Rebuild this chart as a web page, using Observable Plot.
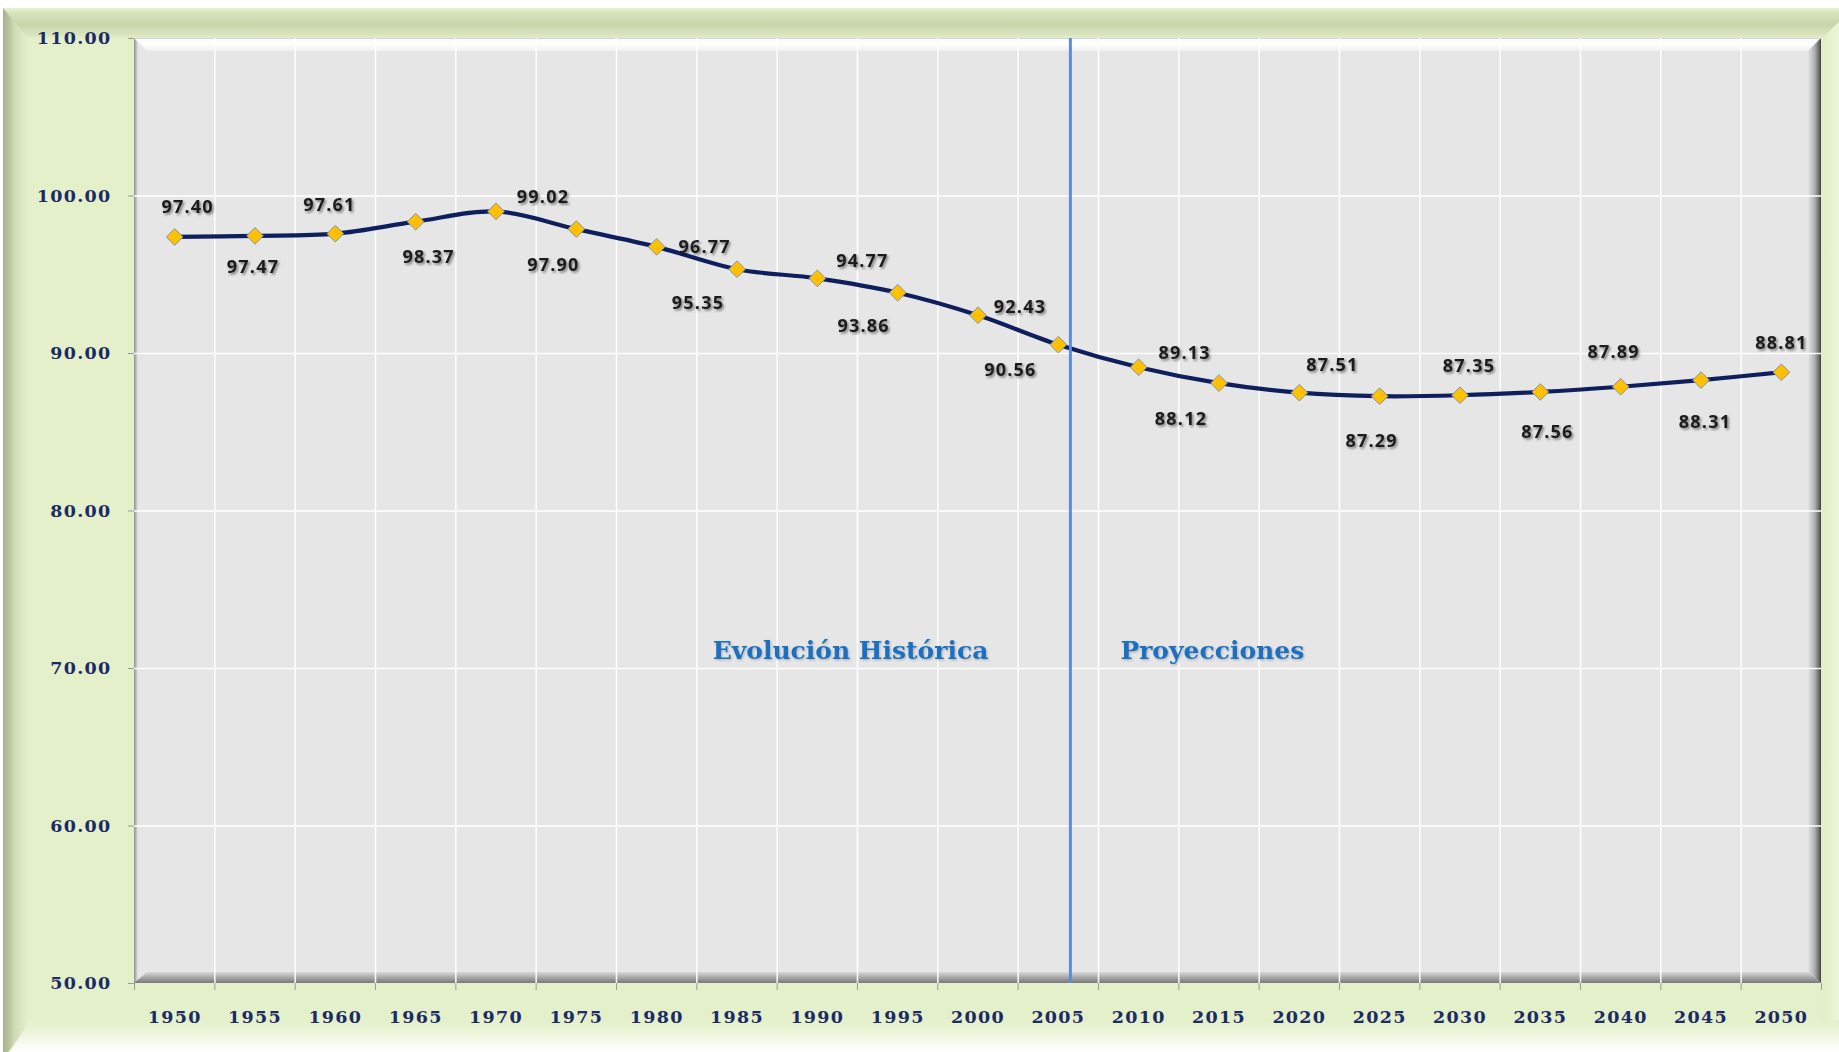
<!DOCTYPE html>
<html>
<head>
<meta charset="utf-8">
<script src="https://cdn.jsdelivr.net/npm/d3@7"></script>
<script src="https://cdn.jsdelivr.net/npm/@observablehq/plot@0.6"></script>
<style>
html, body { margin: 0; padding: 0; background: #ffffff; overflow: hidden; }
#chart svg { display: block; }
g[aria-label="y-axis tick label"] text, g[aria-label="x-axis tick label"] text { letter-spacing: 1.3px; }
g[aria-description="datalabel"] text { filter: url(#tshadow); letter-spacing: 1.2px; }
g[aria-description="annotation"] text { filter: url(#ashadow); }
</style>
</head>
<body>
<svg width="0" height="0" style="position:absolute">
  <defs>
    <filter id="tshadow" x="-20%" y="-40%" width="150%" height="190%">
      <feDropShadow dx="1.6" dy="1.8" stdDeviation="1.1" flood-color="#000000" flood-opacity="0.45"/>
    </filter>
    <filter id="ashadow" x="-10%" y="-40%" width="130%" height="190%">
      <feDropShadow dx="1" dy="1.2" stdDeviation="0.8" flood-color="#000000" flood-opacity="0.25"/>
    </filter>
  </defs>
</svg>
<div id="chart"></div>
<script>
// ---- data ----
const years = [1950, 1955, 1960, 1965, 1970, 1975, 1980, 1985, 1990, 1995, 2000,
               2005, 2010, 2015, 2020, 2025, 2030, 2035, 2040, 2045, 2050];
const values = [97.40, 97.47, 97.61, 98.37, 99.02, 97.90, 96.77, 95.35, 94.77, 93.86, 92.43,
                90.56, 89.13, 88.12, 87.51, 87.29, 87.35, 87.56, 87.89, 88.31, 88.81];
const yTicks = [50, 60, 70, 80, 90, 100, 110];
const dividerYear = 2005.75;
const annotationTexts = ["Evolución Histórica", "Proyecciones"];
const annotationY = [71.1, 71.1];

// label placement (pixel offsets, style only)
const labelDx = [13, -2, -6, 13, 47, -23, 48, -39, 45, -34, 42, -48, 46, -38, 33, -8, 9, 7, -7, 4, 0];
const labelDy = [-30, 31, -28, 36, -14, 36, 0, 34, -17, 34, -8, 26, -14, 36, -27, 45, -29, 40, -34, 42, -29];

const W = 1839, H = 1052;
const data = years.map((y, i) => ({year: y, value: values[i]}));
const boundaries = years.map(y => y - 2.5).concat([years[years.length - 1] + 2.5]);
const innerBoundaries = boundaries.slice(1, -1);

// ---- decoration (panel + 3D plot area) ----
function decor(index, scales, values, dim) {
  const {width, height, marginLeft, marginRight, marginTop, marginBottom} = dim;
  const L = marginLeft, R = width - marginRight, T = marginTop, B = height - marginBottom;
  const g = d3.create("svg:g");
  const defs = g.append("defs");
  function lg(id, x1, y1, x2, y2, stops) {
    const gr = defs.append("linearGradient").attr("id", id)
      .attr("x1", x1).attr("y1", y1).attr("x2", x2).attr("y2", y2);
    stops.forEach(([o, c]) => gr.append("stop").attr("offset", o).attr("stop-color", c));
  }
  lg("gTop", 0, 0, 0, 1, [[0, "#e8f2d2"], [0.18, "#d6e2bc"], [0.55, "#c9d6ac"], [0.85, "#d6e2bc"], [1, "#e2edc8"]]);
  lg("gLeft", 0, 0, 1, 0, [[0, "#a7b28c"], [0.25, "#b9c59e"], [0.45, "#cfdbb5"], [1, "#e3f0ca"]]);
  lg("gBottom", 0, 0, 0, 1, [[0, "#e3f0ca"], [0.45, "#eef6dc"], [1, "#ffffff"]]);
  lg("gRight", 0, 0, 1, 0, [[0, "#e1eec7"], [1, "#ecf6d8"]]);
  lg("pTop", 0, 0, 0, 1, [[0, "#f8f8f8"], [0.4, "#ffffff"], [1, "#f1f1f1"]]);
  lg("pRight", 0, 0, 1, 0, [[0, "#e3e3e3"], [0.5, "#b0b0b0"], [0.85, "#6a6a6a"], [1, "#3c3c3c"]]);
  lg("pBottom", 0, 0, 0, 1, [[0, "#d8d8d8"], [0.5, "#a8a8a8"], [1, "#787878"]]);
  lg("pLeft", 0, 0, 1, 0, [[0, "#8e8e8e"], [1, "#e6e6e6"]]);

  // outer green panel
  g.append("rect").attr("x", 3).attr("y", 8).attr("width", width - 3).attr("height", height - 8).attr("fill", "#e3f0ca");
  g.append("path").attr("d", `M3,8 L${width},8 L${width},22 L${R + 1},${T} L12,${T} Z`).attr("fill", "url(#gTop)");
  g.append("path").attr("d", `M${R + 1},${T} L${width},22 L${width},${height} L${R + 1},${height} Z`).attr("fill", "url(#gRight)");
  g.append("path").attr("d", `M3,8 L28,${T} L28,${height - 26} L8,${height} L3,${height} Z`).attr("fill", "url(#gLeft)");
  g.append("path").attr("d", `M10,${height} L30,1020 L${width},1020 L${width},${height} Z`).attr("fill", "url(#gBottom)");

  // plot area
  const d = 13;
  g.append("rect").attr("x", L).attr("y", T).attr("width", R - L).attr("height", B - T).attr("fill", "#e6e6e6");
  g.append("rect").attr("x", L).attr("y", T).attr("width", 4).attr("height", B - T).attr("fill", "url(#pLeft)");
  g.append("path").attr("d", `M${L},${T} L${R},${T} L${R - d},${T + d} L${L + d},${T + d} Z`).attr("fill", "url(#pTop)");
  g.append("path").attr("d", `M${R},${T} L${R},${B} L${R - d},${B - d + 2} L${R - d},${T + d} Z`).attr("fill", "url(#pRight)");
  g.append("path").attr("d", `M${L},${B} L${R},${B} L${R - d},${B - d + 2} L${L + d},${B - d + 2} Z`).attr("fill", "url(#pBottom)");
  g.append("line").attr("x1", L).attr("x2", R).attr("y1", T + 0.5).attr("y2", T + 0.5).attr("stroke", "#d4d4dc").attr("stroke-width", 1);
  return g.node();
}

const labelMarks = data.map((d, i) => Plot.text([d], {
  x: "year", y: "value", text: v => v.value.toFixed(2),
  dx: labelDx[i], dy: labelDy[i],
  fontFamily: "Open Sans", fontWeight: "bold", fontSize: 18, fill: "#1b1b1b",
  ariaDescription: "datalabel"
}));

const annotations = annotationTexts.map((t, i) => ({text: t, year: dividerYear, y: annotationY[i]}));

const chart = Plot.plot({
  width: W, height: H,
  marginLeft: 134, marginRight: 18, marginTop: 38, marginBottom: 69,
  style: {background: "white", overflow: "visible"},
  x: {type: "linear", domain: [boundaries[0], boundaries[boundaries.length - 1]], axis: null},
  y: {domain: [yTicks[0], yTicks[yTicks.length - 1]], axis: null},
  marks: [
    decor,
    Plot.gridY({ticks: yTicks.slice(1, -1), stroke: "#ffffff", strokeOpacity: 1, strokeWidth: 1.6}),
    Plot.gridX({ticks: innerBoundaries, stroke: "#ffffff", strokeOpacity: 0.9, strokeWidth: 1.6}),
    Plot.axisY({ticks: yTicks, tickSize: 6, tickPadding: 17, tickFormat: d => d.toFixed(2), label: null,
      fontSize: 17.5, fontWeight: "bold", fontFamily: "DejaVu Serif", fill: "#1c2a66", stroke: "#9a9a9a"}),
    Plot.axisX({ticks: boundaries, tickSize: 7, tickFormat: () => "", label: null, stroke: "#9a9a9a"}),
    Plot.axisX({ticks: years, tickSize: 0, tickPadding: 27, tickFormat: d => String(d), label: null,
      fontSize: 17.5, fontWeight: "bold", fontFamily: "DejaVu Serif", fill: "#1c2a66"}),
    Plot.line(data, {x: "year", y: "value", stroke: "#0f1f5e", strokeWidth: 4.2, curve: "catmull-rom"}),
    Plot.ruleX([dividerYear], {stroke: "#5b8ed6", strokeWidth: 3}),
    Plot.dot(data, {x: "year", y: "value", symbol: "diamond2", r: 7.5, fill: "#ffc000", stroke: "#7f94b0", strokeWidth: 1}),
    ...labelMarks,
    Plot.text([annotations[0]], {x: "year", y: "y", text: "text", textAnchor: "end", dx: -82,
      fontFamily: "DejaVu Serif", fontWeight: "bold", fontSize: 25, fill: "#1a6fc2", ariaDescription: "annotation"}),
    Plot.text([annotations[1]], {x: "year", y: "y", text: "text", textAnchor: "start", dx: 50,
      fontFamily: "DejaVu Serif", fontWeight: "bold", fontSize: 25, fill: "#1a6fc2", ariaDescription: "annotation"})
  ]
});
document.getElementById("chart").appendChild(chart);
</script>
</body>
</html>
